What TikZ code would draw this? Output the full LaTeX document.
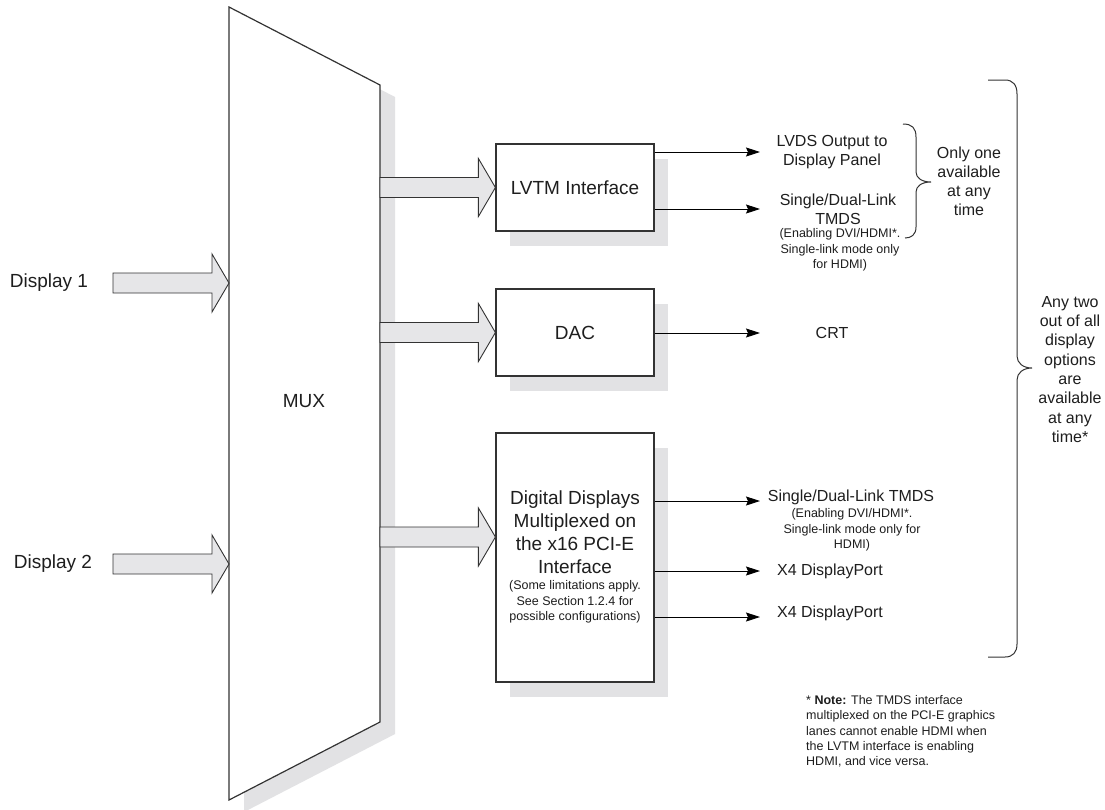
\documentclass[tikz,border=0pt]{standalone}
\usepackage{fontspec}
\setmainfont{Liberation Sans}
\usetikzlibrary{arrows.meta,calc,shadows}
\definecolor{shgray}{HTML}{E2E2E4}
\definecolor{fatgray}{HTML}{E6E6E8}
\definecolor{ink}{HTML}{333333}
\definecolor{txt}{HTML}{1E1E1E}
\newcommand\fatarr[2]{%
  \draw[fatarrow] let \p1=(#1), \p2=(#2) in
    (\x1,{\y2+10pt}) -- ({\x2-17pt},{\y2+10pt}) -- ({\x2-17pt},{\y2+29pt}) -- (\x2,\y2)
    -- ({\x2-17pt},{\y2-29pt}) -- ({\x2-17pt},{\y2-10pt}) -- (\x1,{\y2-10pt}) -- cycle;}
\begin{document}
\begin{tikzpicture}[x=1pt,y=-1pt,
  every node/.style={text=txt},
  box/.style={draw=ink,line width=1.2pt,fill=white,minimum width=158pt,inner sep=0pt,
     drop shadow={shadow xshift=14pt,shadow yshift=-15pt,fill=shgray,opacity=1}},
  fatarrow/.style={draw=ink,line width=0.9pt,fill=fatgray,line join=miter},
  thinarr/.style={draw=black,line width=0.9pt,-{Stealth[length=14pt,width=9pt,inset=2pt]}},
  bigtxt/.style={font=\fontsize{19}{23}\selectfont,align=center,inner sep=0pt},
  midtxt/.style={font=\fontsize{16}{19}\selectfont,align=center,inner sep=0pt},
  smalltxt/.style={font=\fontsize{12.5}{15.5}\selectfont,align=center,inner sep=0pt},
  bracepath/.style={draw=ink,line width=1pt}]
\path[use as bounding box,fill=white] (0,0) rectangle (1105,809);

% MUX
\fill[shgray] (244,19) -- (395,97) -- (395,734) -- (244,812) -- cycle;
\draw[draw=ink,line width=1.2pt,fill=white,line join=miter] (229,7) -- (380,85) -- (380,722) -- (229,800) -- cycle;
\node[bigtxt] (mux) at (304,401) {MUX};
\coordinate (mr) at (380,0);

% inputs
\node[bigtxt] (d1) at (49,283) {Display 1};
\node[bigtxt] (d2) at (53,564) {Display 2};
\coordinate (d1s) at (113,283);
\coordinate (d2s) at (113,564);
\coordinate (d1t) at (229,283);
\coordinate (d2t) at (229,564);
\fatarr{d1s}{d1t}
\fatarr{d2s}{d2t}

% boxes
\node[box,minimum height=87pt,font=\fontsize{19}{23}\selectfont] (lvtm) at (575,187.5) {LVTM Interface};
\node[box,minimum height=87pt,font=\fontsize{19}{23}\selectfont] (dac) at (575,332.5) {DAC};
\node[box,minimum height=249pt] (dig) at (575,557.5) {};
\node[bigtxt] (digA) at (575,532) {Digital Displays\\Multiplexed on\\the x16 PCI-E\\Interface};
\node[smalltxt] (digB) at (575,602) {(Some limitations apply.\\See Section 1.2.4 for\\possible configurations)};
\coordinate (digtip) at ($(dig.west)+(0,-20.5)$);

% fat arrows from mux
\fatarr{mr}{lvtm.west}
\fatarr{mr}{dac.west}
\fatarr{mr}{digtip}

% thin outputs
\coordinate (o1) at (760,152);
\coordinate (o2) at (760,209);
\coordinate (o3) at (760,333);
\coordinate (o4) at (760,501);
\coordinate (o5) at (760,571);
\coordinate (o6) at (760,617);
\draw[thinarr] (o1 -| lvtm.east) -- (o1);
\draw[thinarr] (o2 -| lvtm.east) -- (o2);
\draw[thinarr] (o3 -| dac.east) -- (o3);
\draw[thinarr] (o4 -| dig.east) -- (o4);
\draw[thinarr] (o5 -| dig.east) -- (o5);
\draw[thinarr] (o6 -| dig.east) -- (o6);

% output labels
\node[midtxt] (lvds) at (832,152.5) {LVDS Output to\\Display Panel};
\node[midtxt] (tmds1) at (838,209) {Single/Dual-Link\\TMDS};
\node[smalltxt] (tmds1n) at (840,250) {(Enabling DVI/HDMI*.\\Single-link mode only\\for HDMI)};
\node[midtxt] (crt) at (832,333) {CRT};
\node[midtxt] (tmds2) at (851,497) {Single/Dual-Link TMDS};
\node[smalltxt] (tmds2n) at (852,530) {(Enabling DVI/HDMI*.\\Single-link mode only for\\HDMI)};
\node[midtxt] (dp1) at (830,571) {X4 DisplayPort};
\node[midtxt] (dp2) at (830,613) {X4 DisplayPort};

% small brace
\draw[bracepath] (903,124) .. controls (912,124) and (916,128) .. (916,137) -- (916,172)
  .. controls (916,178) and (922,182) .. (931,182)
  .. controls (922,182) and (916,186) .. (916,192) -- (916,227)
  .. controls (916,235) and (911,238) .. (905,238);
\node[midtxt] (only) at (969,181.5) {Only one\\available\\at any\\time};

% big brace
\draw[bracepath] (988,80) -- (1005,80) .. controls (1013,80) and (1017,85) .. (1017,94) -- (1017,356)
  .. controls (1017,363) and (1023,368) .. (1032,368)
  .. controls (1023,368) and (1017,373) .. (1017,380) -- (1017,644)
  .. controls (1017,652) and (1013,657) .. (1005,657) -- (988,657);
\node[midtxt,font=\fontsize{16}{19.3}\selectfont] (any) at (1070,369.5) {Any two\\out of all\\display\\options\\are\\available\\at any\\time*};

% note
\node[smalltxt,align=left,anchor=west,font=\fontsize{12.5}{15.3}\selectfont] (note) at (806,731.5)
  {* \textbf{Note:} The TMDS interface\\multiplexed on the PCI-E graphics\\lanes cannot enable HDMI when\\the LVTM interface is enabling\\HDMI, and vice versa.};
\end{tikzpicture}
\end{document}
